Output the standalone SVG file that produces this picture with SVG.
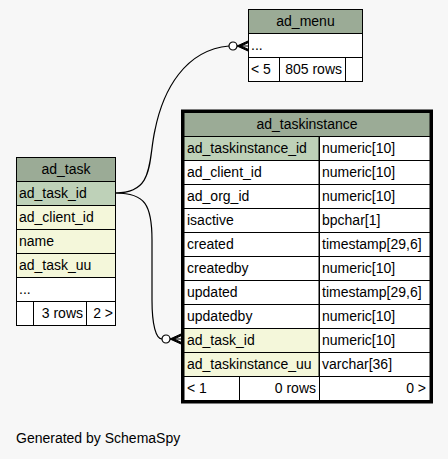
<svg xmlns="http://www.w3.org/2000/svg" width="448" height="459" viewBox="0 0 448 459">
<style>
text{font-family:"Liberation Sans",Arial,sans-serif;font-size:14px;fill:#000}
.c{text-anchor:middle}
.r{text-anchor:end}
.cell{stroke:#000;stroke-width:1}
.hd{fill:#9bab96}
.pk{fill:#bed1b8}
.fk{fill:#f4f7da}
.w{fill:#fff}
.edge{fill:none;stroke:#000;stroke-width:1.2}
</style>
<defs>
<g id="crowodot">
<path d="M0,-5 L-11,0 L0,5 L0,3.2 L-7,0 L0,-3.2 Z M-11,0 L0,0" fill="#000" stroke="#000" stroke-width="1"/>
<circle cx="-15" cy="0" r="4" fill="#fff" stroke="#000" stroke-width="1.2"/>
</g>
</defs>
<rect width="448" height="459" fill="#f7f7f7"/>

<g id="connectors">
<path class="edge" d="M116,193 C155,193 148,160 155,130 C163,90 185,50 229,46"/>
<use href="#crowodot" transform="translate(248,46)"/>
<path class="edge" d="M116,193 C145,193 152,205 152,240 L152,300 C152,325 156,339 162,339"/>
<use href="#crowodot" transform="translate(181,339)"/>
</g>

<g id="ad_menu">
<rect class="cell hd" x="248.5" y="9.5" width="114" height="24"/>
<rect class="cell w" x="248.5" y="33.5" width="114" height="24"/>
<rect class="cell w" x="248.5" y="57.5" width="31" height="24"/>
<rect class="cell w" x="279.5" y="57.5" width="66" height="24"/>
<rect class="cell w" x="345.5" y="57.5" width="17" height="24"/>
<text class="c" x="305.5" y="26">ad_menu</text>
<text x="251" y="50">...</text>
<text x="251" y="74">&lt; 5</text>
<text class="r" x="342" y="74">805 rows</text>
</g>

<g id="ad_task">
<rect class="cell hd" x="16.5" y="157.5" width="99" height="24"/>
<rect class="cell pk" x="16.5" y="181.5" width="99" height="24"/>
<rect class="cell fk" x="16.5" y="205.5" width="99" height="24"/>
<rect class="cell fk" x="16.5" y="229.5" width="99" height="24"/>
<rect class="cell fk" x="16.5" y="253.5" width="99" height="24"/>
<rect class="cell w" x="16.5" y="277.5" width="99" height="24"/>
<rect class="cell w" x="16.5" y="301.5" width="17" height="24"/>
<rect class="cell w" x="33.5" y="301.5" width="53" height="24"/>
<rect class="cell w" x="86.5" y="301.5" width="29" height="24"/>
<text class="c" x="66" y="174">ad_task</text>
<text x="19" y="198">ad_task_id</text>
<text x="19" y="222">ad_client_id</text>
<text x="19" y="246">name</text>
<text x="19" y="270">ad_task_uu</text>
<text x="19" y="294">...</text>
<text class="r" x="83" y="318">3 rows</text>
<text class="r" x="113" y="318">2 &gt;</text>
</g>

<g id="ad_taskinstance">
<rect class="cell hd" x="184" y="112.5" width="246" height="24"/>
<rect class="cell pk" x="184" y="136.5" width="135" height="24"/>
<rect class="cell w" x="184" y="160.5" width="135" height="24"/>
<rect class="cell w" x="184" y="184.5" width="135" height="24"/>
<rect class="cell w" x="184" y="208.5" width="135" height="24"/>
<rect class="cell w" x="184" y="232.5" width="135" height="24"/>
<rect class="cell w" x="184" y="256.5" width="135" height="24"/>
<rect class="cell w" x="184" y="280.5" width="135" height="24"/>
<rect class="cell w" x="184" y="304.5" width="135" height="24"/>
<rect class="cell fk" x="184" y="328.5" width="135" height="24"/>
<rect class="cell fk" x="184" y="352.5" width="135" height="24"/>
<rect class="cell w" x="319.5" y="136.5" width="110.5" height="24"/>
<rect class="cell w" x="319.5" y="160.5" width="110.5" height="24"/>
<rect class="cell w" x="319.5" y="184.5" width="110.5" height="24"/>
<rect class="cell w" x="319.5" y="208.5" width="110.5" height="24"/>
<rect class="cell w" x="319.5" y="232.5" width="110.5" height="24"/>
<rect class="cell w" x="319.5" y="256.5" width="110.5" height="24"/>
<rect class="cell w" x="319.5" y="280.5" width="110.5" height="24"/>
<rect class="cell w" x="319.5" y="304.5" width="110.5" height="24"/>
<rect class="cell w" x="319.5" y="328.5" width="110.5" height="24"/>
<rect class="cell w" x="319.5" y="352.5" width="110.5" height="24"/>
<rect class="cell w" x="184" y="376.5" width="55.5" height="24"/>
<rect class="cell w" x="239.5" y="376.5" width="80" height="24"/>
<rect class="cell w" x="319.5" y="376.5" width="110.5" height="24"/>
<rect x="182.5" y="111" width="249" height="291" fill="none" stroke="#000" stroke-width="3"/>
<text class="c" x="307" y="129">ad_taskinstance</text>
<text x="187" y="153">ad_taskinstance_id</text>
<text x="187" y="177">ad_client_id</text>
<text x="187" y="201">ad_org_id</text>
<text x="187" y="225">isactive</text>
<text x="187" y="249">created</text>
<text x="187" y="273">createdby</text>
<text x="187" y="297">updated</text>
<text x="187" y="321">updatedby</text>
<text x="187" y="345">ad_task_id</text>
<text x="187" y="369">ad_taskinstance_uu</text>
<text x="322" y="153">numeric[10]</text>
<text x="322" y="177">numeric[10]</text>
<text x="322" y="201">numeric[10]</text>
<text x="322" y="225">bpchar[1]</text>
<text x="322" y="249">timestamp[29,6]</text>
<text x="322" y="273">numeric[10]</text>
<text x="322" y="297">timestamp[29,6]</text>
<text x="322" y="321">numeric[10]</text>
<text x="322" y="345">numeric[10]</text>
<text x="322" y="369">varchar[36]</text>
<text x="187" y="393">&lt; 1</text>
<text class="r" x="316" y="393">0 rows</text>
<text class="r" x="426" y="393">0 &gt;</text>
</g>

<text x="16" y="443">Generated by SchemaSpy</text>
</svg>
